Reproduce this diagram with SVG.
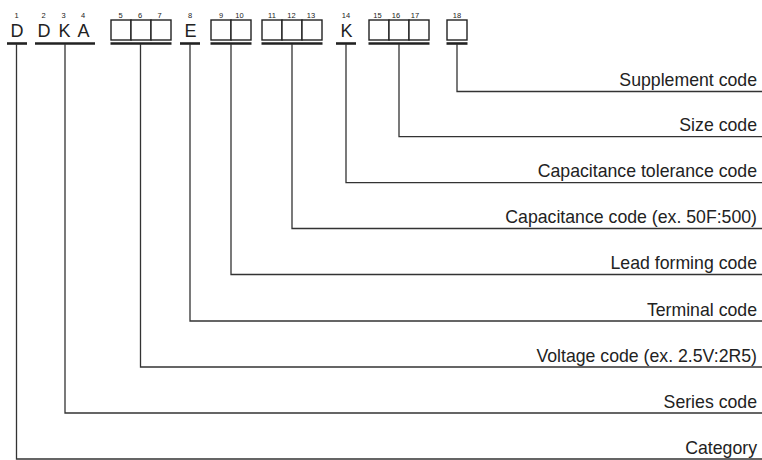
<svg xmlns="http://www.w3.org/2000/svg" width="762" height="460" viewBox="0 0 762 460">
<style>
.big{font-family:"Liberation Sans",Arial,sans-serif;font-size:18px;fill:#222;text-anchor:middle}
.num{font-family:"Liberation Sans",Arial,sans-serif;font-size:7.5px;fill:#222;text-anchor:middle}
.lbl{font-family:"Liberation Sans",Arial,sans-serif;font-size:17.7px;fill:#222;text-anchor:end}
.box{fill:#fff;stroke:#222;stroke-width:1.4}
.bar{stroke:#222;stroke-width:2.6}
.con{fill:none;stroke:#333;stroke-width:1.3}
</style>
<rect width="762" height="460" fill="#fff"/>
<g id="pos1">
<text class="num" x="16.5" y="17.5">1</text>
<text class="big" x="17" y="36.5">D</text>
<line class="bar" x1="7" y1="43.5" x2="27" y2="43.5"/>
</g>
<g id="pos2-4">
<text class="num" x="43.5" y="17.5">2</text>
<text class="num" x="63.5" y="17.5">3</text>
<text class="num" x="83" y="17.5">4</text>
<text class="big" x="44" y="36.5">D</text>
<text class="big" x="64.5" y="36.5">K</text>
<text class="big" x="83.5" y="36.5">A</text>
<line class="bar" x1="35" y1="43.5" x2="95" y2="43.5"/>
</g>
<g id="pos5-7">
<text class="num" x="120.5" y="17.5">5</text>
<text class="num" x="140" y="17.5">6</text>
<text class="num" x="159.5" y="17.5">7</text>
<rect class="box" x="111" y="20" width="20" height="20"/>
<rect class="box" x="131" y="20" width="20" height="20"/>
<rect class="box" x="151" y="20" width="20" height="20"/>
<line class="bar" x1="110.5" y1="43.5" x2="171.5" y2="43.5"/>
</g>
<g id="pos8">
<text class="num" x="190" y="17.5">8</text>
<text class="big" x="190.5" y="36.5">E</text>
<line class="bar" x1="180" y1="43.5" x2="200" y2="43.5"/>
</g>
<g id="pos9-10">
<text class="num" x="221" y="17.5">9</text>
<text class="num" x="239.5" y="17.5">10</text>
<rect class="box" x="211" y="20" width="20" height="20"/>
<rect class="box" x="231" y="20" width="20" height="20"/>
<line class="bar" x1="210.5" y1="43.5" x2="251.5" y2="43.5"/>
</g>
<g id="pos11-13">
<text class="num" x="272" y="17.5">11</text>
<text class="num" x="291.5" y="17.5">12</text>
<text class="num" x="311" y="17.5">13</text>
<rect class="box" x="262" y="20" width="20" height="20"/>
<rect class="box" x="282" y="20" width="20" height="20"/>
<rect class="box" x="302" y="20" width="20" height="20"/>
<line class="bar" x1="261.5" y1="43.5" x2="322.5" y2="43.5"/>
</g>
<g id="pos14">
<text class="num" x="346" y="17.5">14</text>
<text class="big" x="346.5" y="36.5">K</text>
<line class="bar" x1="336" y1="43.5" x2="356" y2="43.5"/>
</g>
<g id="pos15-17">
<text class="num" x="377.5" y="17.5">15</text>
<text class="num" x="396" y="17.5">16</text>
<text class="num" x="415" y="17.5">17</text>
<rect class="box" x="369" y="20" width="20" height="20"/>
<rect class="box" x="389" y="20" width="20" height="20"/>
<rect class="box" x="409" y="20" width="20" height="20"/>
<line class="bar" x1="368.5" y1="43.5" x2="429.5" y2="43.5"/>
</g>
<g id="pos18">
<text class="num" x="457" y="17.5">18</text>
<rect class="box" x="447" y="20" width="20" height="20"/>
<line class="bar" x1="446.5" y1="43.5" x2="467.5" y2="43.5"/>
</g>
<g id="connectors">
<polyline class="con" points="457,44 457,91.5 762,91.5"/>
<polyline class="con" points="399,44 399,136.7 762,136.7"/>
<polyline class="con" points="346,44 346,182.7 762,182.7"/>
<polyline class="con" points="292,44 292,228.5 762,228.5"/>
<polyline class="con" points="231,44 231,274.5 762,274.5"/>
<polyline class="con" points="190,44 190,321 762,321"/>
<polyline class="con" points="140.5,44 140.5,367 762,367"/>
<polyline class="con" points="65,44 65,413 762,413"/>
<polyline class="con" points="16.5,44 16.5,459 762,459"/>
</g>
<g id="labels">
<text class="lbl" x="757" y="86">Supplement code</text>
<text class="lbl" x="757" y="131.2">Size code</text>
<text class="lbl" x="757" y="177.2">Capacitance tolerance code</text>
<text class="lbl" x="757" y="223">Capacitance code (ex. 50F:500)</text>
<text class="lbl" x="757" y="269">Lead forming code</text>
<text class="lbl" x="757" y="315.5">Terminal code</text>
<text class="lbl" x="757" y="361.5">Voltage code (ex. 2.5V:2R5)</text>
<text class="lbl" x="757" y="407.5">Series code</text>
<text class="lbl" x="757" y="453.5">Category</text>
</g>
</svg>
